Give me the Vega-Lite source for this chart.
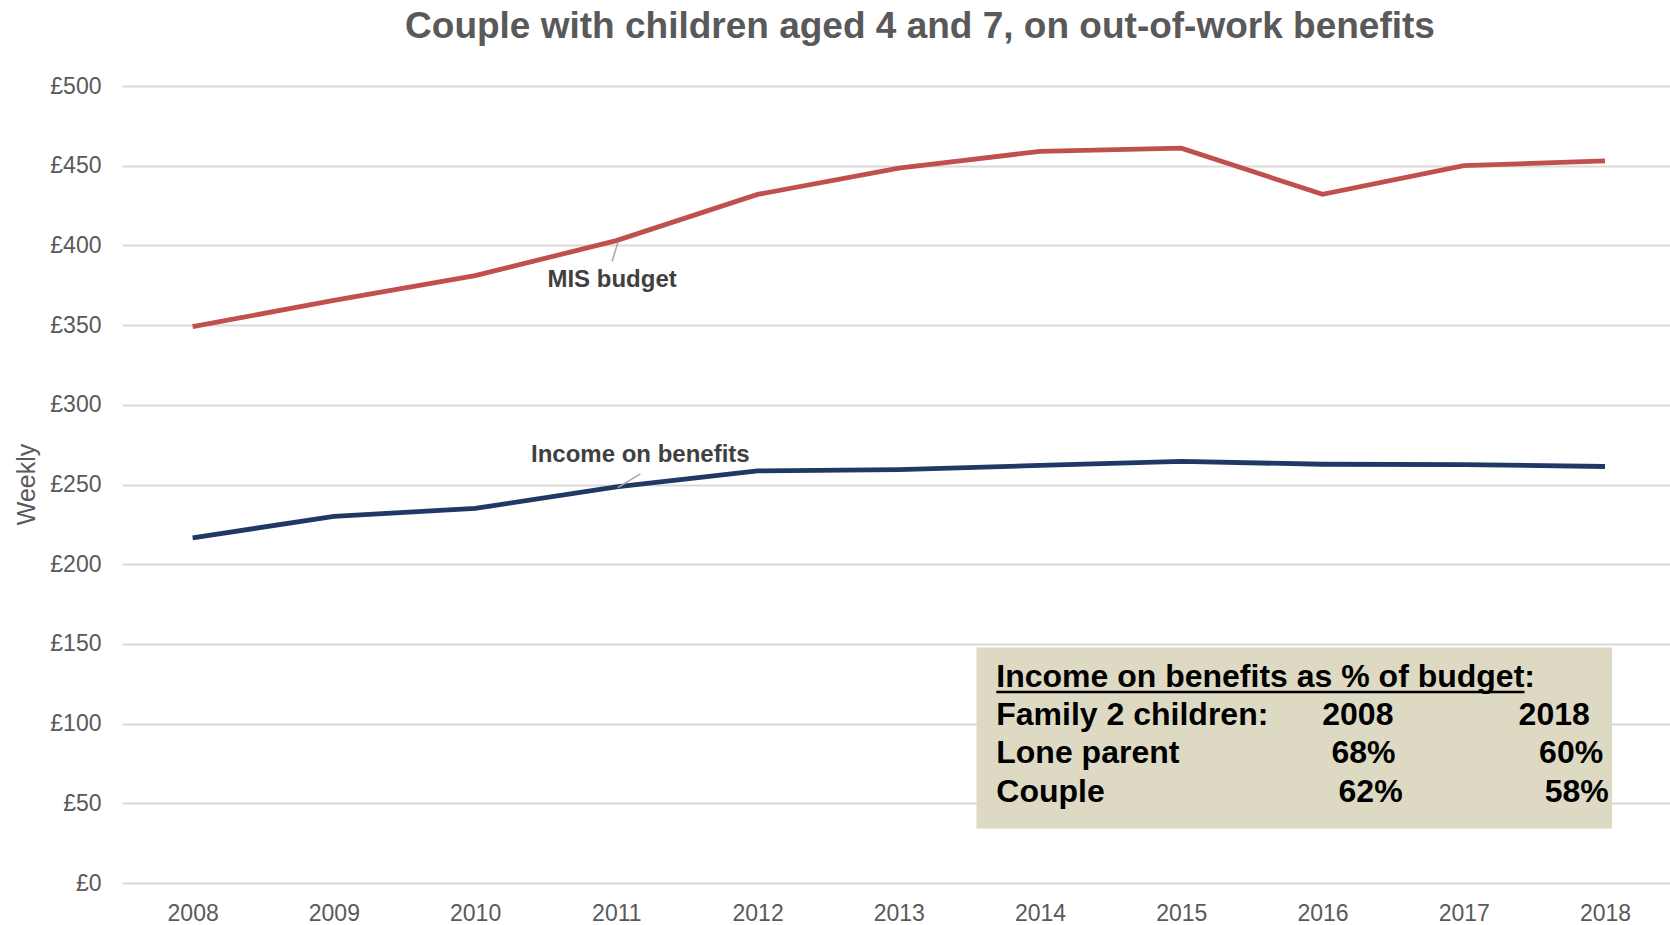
{
  "$schema": "https://vega.github.io/schema/vega-lite/v6.json",
  "autosize": "none",
  "width": 1548,
  "height": 797,
  "padding": {"left": 122, "top": 86, "right": 0, "bottom": 42},
  "background": "white",
  "config": {"view": {"stroke": null}, "font": "Liberation Sans"},
  "title": {
    "text": "Couple with children aged 4 and 7, on out-of-work benefits",
    "fontSize": 37,
    "fontWeight": "bold",
    "color": "#595959",
    "font": "Liberation Sans",
    "anchor": "middle",
    "frame": "group",
    "dx": 24,
    "baseline": "alphabetic",
    "offset": 0
  },
  "datasets": {
    "series": [
      {"year": 2008, "value": 349, "series": "MIS budget"},
      {"year": 2009, "value": 365.5, "series": "MIS budget"},
      {"year": 2010, "value": 381, "series": "MIS budget"},
      {"year": 2011, "value": 403, "series": "MIS budget"},
      {"year": 2012, "value": 432, "series": "MIS budget"},
      {"year": 2013, "value": 448.5, "series": "MIS budget"},
      {"year": 2014, "value": 459, "series": "MIS budget"},
      {"year": 2015, "value": 461, "series": "MIS budget"},
      {"year": 2016, "value": 432, "series": "MIS budget"},
      {"year": 2017, "value": 450, "series": "MIS budget"},
      {"year": 2018, "value": 453, "series": "MIS budget"},
      {"year": 2008, "value": 216.5, "series": "Income on benefits"},
      {"year": 2009, "value": 230, "series": "Income on benefits"},
      {"year": 2010, "value": 235, "series": "Income on benefits"},
      {"year": 2011, "value": 248.5, "series": "Income on benefits"},
      {"year": 2012, "value": 258.5, "series": "Income on benefits"},
      {"year": 2013, "value": 259.3, "series": "Income on benefits"},
      {"year": 2014, "value": 262, "series": "Income on benefits"},
      {"year": 2015, "value": 264.5, "series": "Income on benefits"},
      {"year": 2016, "value": 262.7, "series": "Income on benefits"},
      {"year": 2017, "value": 262.5, "series": "Income on benefits"},
      {"year": 2018, "value": 261.3, "series": "Income on benefits"}
    ],
    "labels": [
      {"x": 2010.97, "y": 378, "text": "MIS budget"},
      {"x": 2011.17, "y": 268.5, "text": "Income on benefits"}
    ],
    "leaders": [
      {"x": 2011.01, "y": 401.5, "x2": 2010.97, "y2": 390},
      {"x": 2011.01, "y": 248, "x2": 2011.17, "y2": 256.6}
    ],
    "box": [
      {"x": 2013.55, "x2": 2018.05, "y": 147.8, "y2": 34.2}
    ],
    "boxleft": [
      {"x": 2013.69, "y": 129.2, "text": "Income on benefits as % of budget:"},
      {"x": 2013.69, "y": 105.4, "text": "Family 2 children:"},
      {"x": 2013.69, "y": 81.6, "text": "Lone parent"},
      {"x": 2013.69, "y": 57.1, "text": "Couple"}
    ],
    "boxcenter": [
      {"x": 2016.25, "y": 105.4, "text": "2008"},
      {"x": 2017.64, "y": 105.4, "text": "2018"},
      {"x": 2016.29, "y": 81.6, "text": "68%"},
      {"x": 2017.76, "y": 81.6, "text": "60%"},
      {"x": 2016.34, "y": 57.1, "text": "62%"},
      {"x": 2017.80, "y": 57.1, "text": "58%"}
    ],
    "underline": [
      {"x": 2013.69, "x2": 2017.43, "y": 119.8}
    ]
  },
  "layer": [
    {
      "data": {"name": "series"},
      "mark": {"type": "line", "strokeWidth": 4.8, "strokeCap": "butt", "strokeJoin": "miter"},
      "encoding": {
        "x": {
          "field": "year", "type": "quantitative",
          "scale": {"domain": [2007.5, 2018.46], "nice": false, "zero": false},
          "axis": {
            "values": [2008, 2009, 2010, 2011, 2012, 2013, 2014, 2015, 2016, 2017, 2018],
            "format": "d", "title": null, "grid": false, "ticks": false, "domain": false,
            "labelFontSize": 23, "labelColor": "#595959", "labelPadding": 19,
            "labelFont": "Liberation Sans"
          }
        },
        "y": {
          "field": "value", "type": "quantitative",
          "scale": {"domain": [0, 500], "nice": false},
          "axis": {
            "values": [0, 50, 100, 150, 200, 250, 300, 350, 400, 450, 500],
            "labelExpr": "'£' + datum.value",
            "title": "Weekly", "titleFontSize": 25, "titleFontWeight": "normal",
            "titleColor": "#595959", "titleFont": "Liberation Sans",
            "titleX": -96, "titleY": 398, "titleAngle": -90, "titleAlign": "center", "titleBaseline": "middle",
            "grid": true, "gridColor": "#d9d9d9", "gridWidth": 2,
            "ticks": false, "domain": false,
            "labelFontSize": 23, "labelColor": "#595959", "labelPadding": 21,
            "labelFont": "Liberation Sans"
          }
        },
        "color": {
          "field": "series", "type": "nominal",
          "scale": {"domain": ["MIS budget", "Income on benefits"], "range": ["#c0504d", "#1f3864"]},
          "legend": null
        }
      }
    },
    {
      "data": {"name": "leaders"},
      "mark": {"type": "rule", "color": "#a6a6a6", "strokeWidth": 1.5},
      "encoding": {
        "x": {"field": "x", "type": "quantitative"},
        "y": {"field": "y", "type": "quantitative"},
        "x2": {"field": "x2"},
        "y2": {"field": "y2"}
      }
    },
    {
      "data": {"name": "labels"},
      "mark": {"type": "text", "fontSize": 24, "fontWeight": "bold", "color": "#404040", "align": "center", "baseline": "middle", "font": "Liberation Sans"},
      "encoding": {
        "x": {"field": "x", "type": "quantitative"},
        "y": {"field": "y", "type": "quantitative"},
        "text": {"field": "text"}
      }
    },
    {
      "data": {"name": "box"},
      "mark": {"type": "rect", "color": "#ddd9c3"},
      "encoding": {
        "x": {"field": "x", "type": "quantitative"},
        "x2": {"field": "x2"},
        "y": {"field": "y", "type": "quantitative"},
        "y2": {"field": "y2"}
      }
    },
    {
      "data": {"name": "boxleft"},
      "mark": {"type": "text", "fontSize": 32, "fontWeight": "bold", "color": "#000000", "align": "left", "baseline": "middle", "font": "Liberation Sans"},
      "encoding": {
        "x": {"field": "x", "type": "quantitative"},
        "y": {"field": "y", "type": "quantitative"},
        "text": {"field": "text"}
      }
    },
    {
      "data": {"name": "boxcenter"},
      "mark": {"type": "text", "fontSize": 32, "fontWeight": "bold", "color": "#000000", "align": "center", "baseline": "middle", "font": "Liberation Sans"},
      "encoding": {
        "x": {"field": "x", "type": "quantitative"},
        "y": {"field": "y", "type": "quantitative"},
        "text": {"field": "text"}
      }
    },
    {
      "data": {"name": "underline"},
      "mark": {"type": "rule", "color": "#000000", "strokeWidth": 2.5},
      "encoding": {
        "x": {"field": "x", "type": "quantitative"},
        "x2": {"field": "x2"},
        "y": {"field": "y", "type": "quantitative"}
      }
    }
  ]
}
